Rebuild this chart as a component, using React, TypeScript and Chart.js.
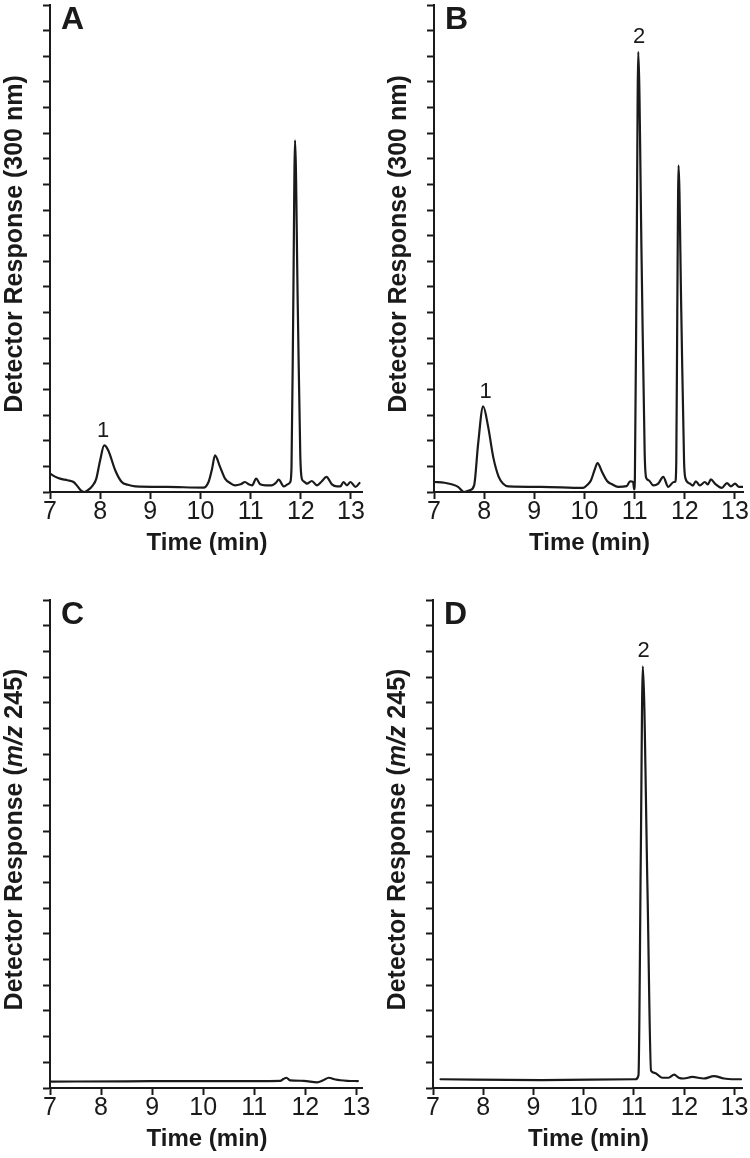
import React, { useEffect, useRef } from "react";
import { Chart, registerables } from "chart.js";

Chart.register(...registerables);

// ---------- data ----------
const xTickValues = [7, 8, 9, 10, 11, 12, 13];
const yTickValues = [0, 1, 2, 3, 4, 5, 6, 7, 8, 9, 10, 11, 12, 13, 14, 15, 16, 17, 18, 19];
const xAxisTitle = "Time (min)";

// Panel A (UV 300 nm)
const timeA = [7.0, 7.1, 7.2, 7.35, 7.47, 7.55, 7.62, 7.68, 7.75, 7.85, 7.92, 8.0, 8.08, 8.16, 8.3, 8.43, 8.55, 8.7, 9.33, 10.06, 10.16, 10.23, 10.29, 10.39, 10.49, 10.6, 10.69, 10.8, 10.89, 10.96, 11.03, 11.11, 11.19, 11.3, 11.42, 11.5, 11.56, 11.66, 11.74, 11.79, 11.815, 11.85, 11.885, 11.94, 11.99, 12.02, 12.07, 12.12, 12.22, 12.32, 12.42, 12.51, 12.62, 12.72, 12.79, 12.85, 12.92, 12.99, 13.09, 13.17];
const respA = [0.72, 0.6, 0.52, 0.46, 0.39, 0.22, 0.05, 0.0, 0.06, 0.25, 0.5, 1.24, 1.82, 1.63, 0.85, 0.39, 0.28, 0.22, 0.2, 0.17, 0.39, 0.9, 1.43, 0.98, 0.52, 0.34, 0.26, 0.3, 0.39, 0.3, 0.26, 0.52, 0.3, 0.26, 0.26, 0.35, 0.48, 0.22, 0.3, 0.39, 1.0, 7.3, 13.72, 7.2, 1.4, 0.52, 0.4, 0.33, 0.43, 0.26, 0.42, 0.59, 0.3, 0.22, 0.22, 0.39, 0.26, 0.39, 0.2, 0.35];
const peakNamesA = ["1"];
const peakTimesA = [8.06];
const peakLevelsA = [2.15];

// Panel B (UV 300 nm)
const timeB = [7.0, 7.21, 7.35, 7.48, 7.6, 7.71, 7.8, 7.88, 7.98, 8.08, 8.18, 8.29, 8.38, 8.48, 9.14, 9.97, 10.07, 10.13, 10.2, 10.26, 10.35, 10.45, 10.55, 10.67, 10.84, 10.91, 10.97, 10.99, 11.005, 11.04, 11.072, 11.14, 11.2, 11.23, 11.28, 11.37, 11.47, 11.57, 11.67, 11.78, 11.81, 11.83, 11.85, 11.875, 11.93, 11.985, 12.01, 12.1, 12.16, 12.22, 12.3, 12.4, 12.46, 12.52, 12.6, 12.74, 12.84, 12.92, 13.0, 13.08, 13.15];
const respB = [0.39, 0.36, 0.3, 0.2, 0.0, 0.07, 0.26, 1.89, 3.34, 2.54, 1.37, 0.59, 0.32, 0.22, 0.2, 0.16, 0.3, 0.46, 0.85, 1.13, 0.78, 0.43, 0.3, 0.2, 0.23, 0.42, 0.39, 0.1, 0.6, 9.2, 17.17, 8.9, 1.5, 0.55, 0.46, 0.26, 0.33, 0.59, 0.2, 0.39, 0.4, 1.2, 7.0, 12.74, 7.0, 1.2, 0.55, 0.33, 0.25, 0.42, 0.26, 0.39, 0.3, 0.49, 0.33, 0.16, 0.35, 0.22, 0.33, 0.2, 0.2];
const peakNamesB = ["1", "2"];
const peakTimesB = [8.03, 11.09];
const peakLevelsB = [3.66, 17.52];

// Panel C (MS m/z 245)
const timeC = [7.0, 8.5, 9.95, 11.0, 11.51, 11.57, 11.63, 11.7, 11.97, 12.23, 12.35, 12.46, 12.59, 12.82, 13.03];
const respC = [0.25, 0.26, 0.27, 0.27, 0.28, 0.35, 0.4, 0.3, 0.28, 0.22, 0.3, 0.4, 0.33, 0.28, 0.27];
const peakNamesC: string[] = [];
const peakTimesC: number[] = [];
const peakLevelsC: number[] = [];

// Panel D (MS m/z 245)
const timeD = [7.15, 9.16, 11.03, 11.09, 11.135, 11.175, 11.27, 11.34, 11.41, 11.56, 11.69, 11.8, 11.89, 11.99, 12.16, 12.39, 12.59, 12.79, 12.95, 13.13];
const respD = [0.34, 0.31, 0.34, 0.5, 8.9, 16.42, 7.6, 0.67, 0.59, 0.4, 0.4, 0.52, 0.4, 0.37, 0.43, 0.37, 0.46, 0.37, 0.34, 0.34];
const peakNamesD = ["2"];
const peakTimesD = [11.19];
const peakLevelsD = [16.77];

// ---------- styling / layout ----------
const INK = "#1a1a1a";
const FONT = "'Liberation Sans', Arial, Helvetica, sans-serif";

type Seg = { text: string; italic?: boolean };
const uvTitle: Seg[] = [{ text: "Detector Response (300 nm)" }];
const msTitle: Seg[] = [{ text: "Detector Response (" }, { text: "m/z", italic: true }, { text: " 245)" }];

type PanelCfg = {
  letter: string;
  times: number[];
  resp: number[];
  peakNames: string[];
  peakTimes: number[];
  peakLevels: number[];
  yTitle: Seg[];
  xMax: number;
  canvasLeft: number;
  canvasTop: number;
  W: number;
  H: number;
  left: number;
  top: number;
  right: number;
  bottom: number;
};

const panels: PanelCfg[] = [
  { letter: "A", times: timeA, resp: respA, peakNames: peakNamesA, peakTimes: peakTimesA, peakLevels: peakLevelsA, yTitle: uvTitle, xMax: 13.22, canvasLeft: 0, canvasTop: 0, W: 375, H: 560, left: 50, top: 5, right: 362, bottom: 492 },
  { letter: "B", times: timeB, resp: respB, peakNames: peakNamesB, peakTimes: peakTimesB, peakLevels: peakLevelsB, yTitle: uvTitle, xMax: 13.16, canvasLeft: 375, canvasTop: 0, W: 375, H: 560, left: 59, top: 5, right: 368, bottom: 492 },
  { letter: "C", times: timeC, resp: respC, peakNames: peakNamesC, peakTimes: peakTimesC, peakLevels: peakLevelsC, yTitle: msTitle, xMax: 13.11, canvasLeft: 0, canvasTop: 560, W: 375, H: 598, left: 50, top: 40, right: 362, bottom: 528 },
  { letter: "D", times: timeD, resp: respD, peakNames: peakNamesD, peakTimes: peakTimesD, peakLevels: peakLevelsD, yTitle: msTitle, xMax: 13.15, canvasLeft: 375, canvasTop: 560, W: 375, H: 598, left: 58, top: 40, right: 367, bottom: 528 },
];

function makeTextPlugin(cfg: PanelCfg) {
  return {
    id: "panelText" + cfg.letter,
    afterDraw(chart: any) {
      const { ctx, chartArea, scales } = chart;
      ctx.save();
      ctx.fillStyle = INK;

      // panel letter
      ctx.font = `bold 32px ${FONT}`;
      ctx.textAlign = "left";
      ctx.textBaseline = "alphabetic";
      ctx.fillText(cfg.letter, chartArea.left + 11, chartArea.top + 24);

      // peak labels
      ctx.font = `22px ${FONT}`;
      ctx.textAlign = "center";
      cfg.peakNames.forEach((name, i) => {
        const px = scales.x.getPixelForValue(cfg.peakTimes[i]);
        const py = scales.y.getPixelForValue(cfg.peakLevels[i]);
        ctx.fillText(name, px, py);
      });

      // x axis title
      ctx.font = `bold 24px ${FONT}`;
      ctx.textAlign = "center";
      ctx.textBaseline = "middle";
      ctx.fillText(xAxisTitle, (chartArea.left + chartArea.right) / 2 + 1, chartArea.bottom + 51.5);

      // y axis title (rotated, mixed styles)
      const fonts = cfg.yTitle.map((s) => (s.italic ? `italic bold 25px ${FONT}` : `bold 25px ${FONT}`));
      let total = 0;
      const widths = cfg.yTitle.map((s, i) => {
        ctx.font = fonts[i];
        const w = ctx.measureText(s.text).width;
        total += w;
        return w;
      });
      const cx = chartArea.left - 35;
      const cy = (chartArea.top + chartArea.bottom) / 2 - 4.5;
      ctx.translate(cx, cy);
      ctx.rotate(-Math.PI / 2);
      ctx.textAlign = "left";
      ctx.textBaseline = "middle";
      let x = -total / 2;
      cfg.yTitle.forEach((s, i) => {
        ctx.font = fonts[i];
        ctx.fillText(s.text, x, 0);
        x += widths[i];
      });
      ctx.restore();
    },
  };
}

function Panel({ cfg }: { cfg: PanelCfg }) {
  const ref = useRef<HTMLCanvasElement | null>(null);
  useEffect(() => {
    const canvas = ref.current;
    if (!canvas) return;
    const points = cfg.times.map((t, i) => ({ x: t, y: cfg.resp[i] }));
    const chart = new Chart(canvas, {
      type: "line",
      data: {
        datasets: [
          {
            data: points,
            borderColor: INK,
            borderWidth: 2.2,
            pointRadius: 0,
            fill: false,
            cubicInterpolationMode: "monotone",
            borderJoinStyle: "round",
            borderCapStyle: "round",
          } as any,
        ],
      },
      options: {
        responsive: false,
        animation: false,
        devicePixelRatio: 1,
        events: [],
        layout: { padding: { left: 0, top: cfg.top, right: cfg.W - cfg.right, bottom: 0 } },
        plugins: { legend: { display: false }, tooltip: { enabled: false } },
        scales: {
          x: {
            type: "linear",
            min: 7,
            max: cfg.xMax,
            afterBuildTicks: (s: any) => {
              s.ticks = xTickValues.map((value) => ({ value }));
            },
            afterFit: (s: any) => {
              s.height = cfg.H - cfg.bottom;
            },
            grid: { drawOnChartArea: false, drawTicks: true, tickLength: 7, tickWidth: 2, tickColor: INK },
            border: { display: true, color: INK, width: 2 },
            ticks: { color: INK, font: { family: FONT, size: 25 }, padding: -2, maxRotation: 0, autoSkip: false },
          },
          y: {
            type: "linear",
            min: 0,
            max: 19,
            afterBuildTicks: (s: any) => {
              s.ticks = yTickValues.map((value) => ({ value }));
            },
            afterFit: (s: any) => {
              s.width = cfg.left;
            },
            grid: { drawOnChartArea: false, drawTicks: true, tickLength: 7, tickWidth: 2, tickColor: INK },
            border: { display: true, color: INK, width: 2 },
            ticks: { display: false },
          },
        },
      } as any,
      plugins: [makeTextPlugin(cfg)],
    });
    return () => chart.destroy();
  }, [cfg]);
  return (
    <canvas
      ref={ref}
      width={cfg.W}
      height={cfg.H}
      style={{ position: "absolute", left: cfg.canvasLeft, top: cfg.canvasTop, width: cfg.W, height: cfg.H }}
    />
  );
}

export default function App() {
  return (
    <div style={{ position: "absolute", left: 0, top: 0, width: 750, height: 1158, background: "#fff" }}>
      {panels.map((p) => (
        <Panel key={p.letter} cfg={p} />
      ))}
    </div>
  );
}
